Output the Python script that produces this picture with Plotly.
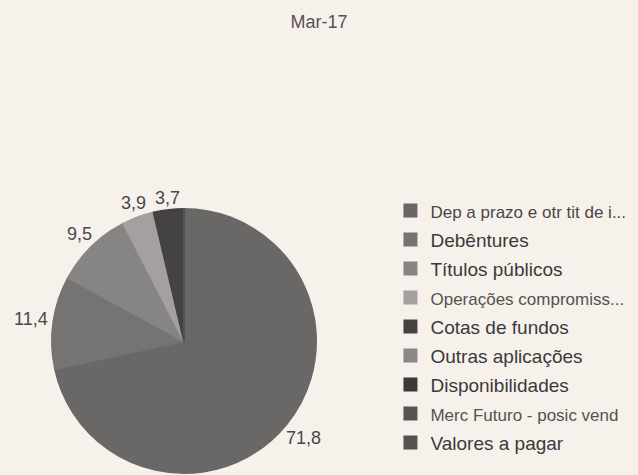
import math
import plotly.graph_objects as go

title = "Mar-17"
labels = [
    "Dep a prazo e otr tit de i...",
    "Debêntures",
    "Títulos públicos",
    "Operações compromiss...",
    "Cotas de fundos",
    "Outras aplicações",
    "Disponibilidades",
    "Merc Futuro - posic vend",
    "Valores a pagar",
]
values = [71.8, 11.4, 9.5, 3.9, 3.7, 0, 0, 0, 0]

# styles
colors = ["#6a6767", "#767373", "#878484", "#a3a09f", "#454242",
          "#8a8787", "#3c3939", "#575454", "#555252"]
legend_sizes = [17, 19, 19, 17, 19, 19, 19, 17, 19]
legend_colors = ["#4a4747", "#3c3939", "#3c3939", "#555252", "#3c3939",
                 "#3c3939", "#3c3939", "#555252", "#3c3939"]

W, H = 638, 475
FONT = "Liberation Sans, Arial, sans-serif"

# pie geometry (pixels)
cx, cy, r = 184, 341, 132
dom_x = [(cx - r) / W, (cx + r) / W]
dom_y = [(H - cy - r) / H, (H - cy + r) / H]

legend_labels = [
    f'<span style="font-size:{s}px;color:{c}">{l}</span>'
    for l, s, c in zip(labels, legend_sizes, legend_colors)
]

fig = go.Figure(go.Pie(
    labels=legend_labels,
    values=values,
    textinfo="none",
    sort=False,
    direction="clockwise",
    rotation=0,
    marker=dict(colors=colors, line=dict(color=colors, width=2)),
    domain=dict(x=dom_x, y=dom_y),
    showlegend=True,
    hoverinfo="label+value",
))

# value labels placed just outside each slice, from the data
fs = 18
pad = 3
total = sum(values)
cum = 0.0
annotations = []
for v in values:
    if v <= 0:
        continue
    mid = (cum + v / 2) / total * 2 * math.pi
    cum += v
    t = f"{v:.1f}".replace(".", ",")
    s, c = math.sin(mid), math.cos(mid)
    w = fs * sum(0.278 if ch == "," else 0.556 for ch in t)
    h = fs * 0.78
    d = r + 1 + pad + abs(s) * w / 2 + abs(c) * h / 2
    xp, yp = cx + d * s, cy - d * c
    annotations.append(dict(
        x=xp / W, y=1 - yp / H, xref="paper", yref="paper",
        text=t, showarrow=False, xanchor="center", yanchor="middle",
        font=dict(size=fs, color="#4a4747", family=FONT),
    ))

fig.update_layout(
    width=W, height=H,
    margin=dict(l=0, r=0, t=0, b=0),
    paper_bgcolor="#f7f1ec",
    plot_bgcolor="#f7f1ec",
    title=dict(text=title, x=0.5, xanchor="center", y=1 - 22 / H, yanchor="middle",
               font=dict(size=18, color="#555252", family=FONT)),
    legend=dict(x=0.612, y=1 - 191 / H, xanchor="left", yanchor="top",
                font=dict(size=20, color="#3c3939", family=FONT),
                bgcolor="rgba(0,0,0,0)", traceorder="normal"),
    annotations=annotations,
)

fig.write_html("out.html")
